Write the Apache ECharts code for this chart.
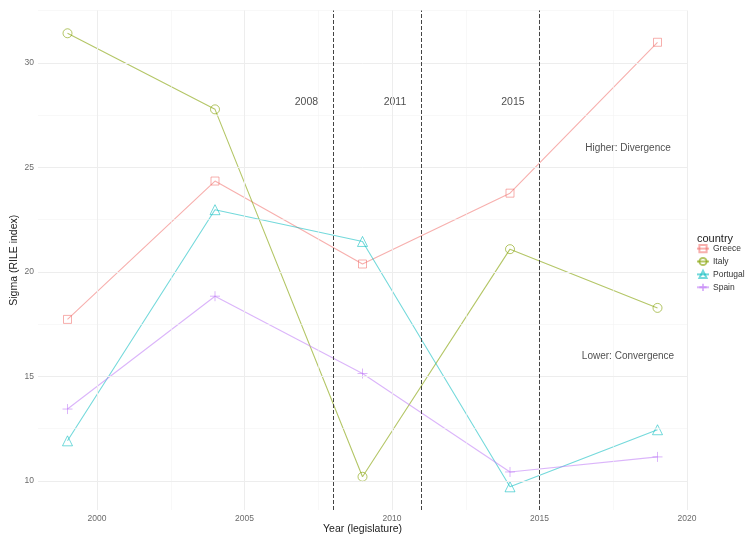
<!DOCTYPE html>
<html>
<head>
<meta charset="utf-8">
<script src="https://cdn.jsdelivr.net/npm/echarts@6/dist/echarts.min.js"></script>
<style>html,body{margin:0;padding:0;background:#fff}#c{width:745px;height:536px}</style>
</head>
<body>
<div id="c"></div>
<script>
// ---- data ----
const years = [1999, 2004, 2009, 2014, 2019];
const greece   = [17.73, 24.35, 20.38, 23.77, 30.99];
const italy    = [31.42, 27.78, 10.20, 21.09, 18.28];
const portugal = [11.92, 22.98, 21.46, 9.72, 12.45];
const spain    = [13.44, 18.84, 15.14, 10.43, 11.15];
const countries = ['Greece', 'Italy', 'Portugal', 'Spain'];
const xTicks = [2000, 2005, 2010, 2015, 2020];
const xMinor = [2002.5, 2007.5, 2012.5, 2017.5];
const yTicks = [10, 15, 20, 25, 30];
const yMinor = [12.5, 17.5, 22.5, 27.5, 32.5];
const eventYears = [2008, 2011, 2015];
const eventLabels = ['2008', '2011', '2015'];
const eventLabelX = [2007.1, 2010.1, 2014.1];
const eventLabelY = 28.15;
const notes = ['Higher: Divergence', 'Lower: Convergence'];
const noteX = [2018, 2018];
const noteY = [25.9, 15.95];

const colors = ['rgba(240,110,105,0.55)', 'rgba(130,160,0,0.6)', 'rgba(0,185,190,0.55)', 'rgba(190,120,245,0.55)'];
const symbols = ['rect', 'circle', 'triangle', 'path://M5,0L5,10M0,5L10,5'];
const symSizes = [8, 9, 10, 10];
const allValues = [greece, italy, portugal, spain];

const chart = echarts.init(document.getElementById('c'), null, {renderer: 'canvas'});

const series = [];
// grid lines
series.push({
  type: 'line', data: [], z: 0, silent: true,
  markLine: {
    silent: true, symbol: 'none', label: {show: false}, animation: false,
    data: [
      ...xMinor.map(v => ({xAxis: v, lineStyle: {color: '#F4F4F4', width: 0.6, type: 'solid'}})),
      ...yMinor.map(v => ({yAxis: v, lineStyle: {color: '#F4F4F4', width: 0.6, type: 'solid'}})),
      ...xTicks.map(v => ({xAxis: v, lineStyle: {color: '#EDEDED', width: 1, type: 'solid'}})),
      ...yTicks.map(v => ({yAxis: v, lineStyle: {color: '#EDEDED', width: 1, type: 'solid'}}))
    ]
  }
});
countries.forEach((name, i) => {
  series.push({
    name: name, type: 'line', z: 2,
    data: years.map((y, k) => [y, allValues[i][k]]),
    symbol: symbols[i], symbolSize: symSizes[i], showAllSymbol: true,
    lineStyle: {color: colors[i], width: 1.1},
    itemStyle: {color: 'rgba(255,255,255,0)', borderColor: colors[i], borderWidth: 1},
    emphasis: {disabled: true},
    animation: false
  });
});
// event lines
series.push({
  type: 'line', data: [], z: 3, silent: true,
  markLine: {
    silent: true, symbol: 'none', label: {show: false}, animation: false,
    lineStyle: {color: '#444', width: 1, type: [4, 2]},
    data: eventYears.map(v => ({xAxis: v}))
  }
});
// event labels
series.push({
  type: 'scatter', z: 4, silent: true, symbolSize: 0,
  data: eventLabels.map((t, i) => ({value: [eventLabelX[i], eventLabelY], label: {formatter: t}})),
  label: {show: true, position: 'inside', color: '#222', fontSize: 10.5, fontFamily: 'Liberation Sans, Arial, sans-serif'},
  animation: false
});
// notes
series.push({
  type: 'scatter', z: 4, silent: true, symbolSize: 0,
  data: notes.map((t, i) => ({value: [noteX[i], noteY[i]], label: {formatter: t}})),
  label: {show: true, position: 'inside', color: '#222', fontSize: 10, fontFamily: 'Liberation Sans, Arial, sans-serif'},
  animation: false
});

const axisFont = {color: '#6b6b6b', fontSize: 8.5, fontFamily: 'Liberation Sans, Arial, sans-serif'};
chart.setOption({
  backgroundColor: '#fff',
  animation: false,
  title: {
    text: 'country', left: 692, top: 228,
    textStyle: {fontSize: 11, fontWeight: 'normal', color: '#222', fontFamily: 'Liberation Sans, Arial, sans-serif'}
  },
  legend: {
    data: countries, orient: 'vertical', left: 696, top: 244, padding: [0, 0, 0, 0],
    itemWidth: 12, itemHeight: 9, itemGap: 3.7,
    textStyle: {fontSize: 8.5, color: '#333', fontFamily: 'Liberation Sans, Arial, sans-serif', padding: [0, 0, 0, -1]}
  },
  grid: {left: 38, right: 58, top: 10.5, bottom: 26, containLabel: false, outerBoundsMode: 'none'},
  xAxis: {
    type: 'value', min: 1998, max: 2020,
    name: 'Year (legislature)', nameLocation: 'middle', nameGap: 14, nameMoveOverlap: false,
    nameTextStyle: {fontSize: 10.5, color: '#222', fontFamily: 'Liberation Sans, Arial, sans-serif'},
    axisLine: {show: false}, axisTick: {show: false}, splitLine: {show: false},
    axisLabel: Object.assign({customValues: xTicks, margin: 4, formatter: v => String(v)}, axisFont)
  },
  yAxis: {
    type: 'value', min: 8.61, max: 32.51,
    name: 'Sigma (RILE index)', nameLocation: 'middle', nameGap: 18, nameRotate: 90, nameMoveOverlap: false,
    nameTextStyle: {fontSize: 10.5, color: '#222', fontFamily: 'Liberation Sans, Arial, sans-serif'},
    axisLine: {show: false}, axisTick: {show: false}, splitLine: {show: false},
    axisLabel: Object.assign({customValues: yTicks, margin: 4, formatter: v => String(v)}, axisFont)
  },
  series: series
});
</script>
</body>
</html>
